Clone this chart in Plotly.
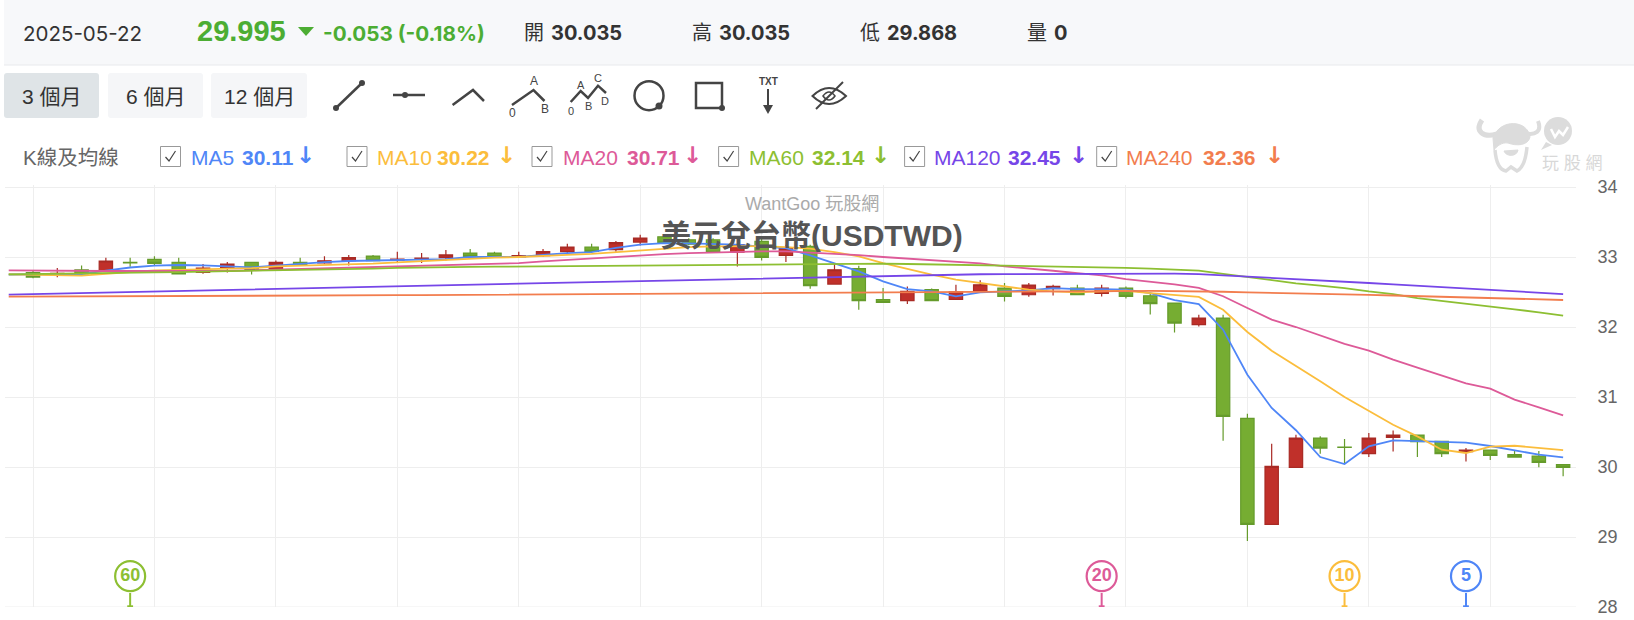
import plotly.graph_objects as go

# candles, oldest first (red = up, green = down)
days = list(range(64))
opens = [32.776, 32.76, 32.815, 32.805, 32.925, 32.967, 32.924, 32.78, 32.84, 32.924, 32.83, 32.924, 32.915, 32.947, 33.014, 32.957,
         32.97, 32.99, 33.057, 33.057, 33.0, 33.02, 33.076, 33.143, 33.105, 33.214, 33.29, 33.247, 33.247, 33.07, 33.223, 33.023,
         33.152, 32.614, 32.833, 32.39, 32.376, 32.533, 32.395, 32.509, 32.557, 32.461, 32.547, 32.557, 32.48, 32.557, 32.447, 32.342,
         32.033, 32.128, 30.695, 29.18, 29.995, 30.414, 30.285, 30.19, 30.423, 30.456, 30.366, 30.218, 30.242, 30.176, 30.157, 30.035]
highs = [32.8, 32.843, 32.88, 32.99, 32.99, 33.01, 32.99, 32.9, 32.93, 32.924, 32.95, 32.99, 33.01, 33.03, 33.03, 33.076,
         33.057, 33.1, 33.114, 33.076, 33.076, 33.114, 33.19, 33.19, 33.228, 33.318, 33.31, 33.27, 33.27, 33.27, 33.27, 33.176,
         33.176, 32.914, 32.876, 32.557, 32.58, 32.55, 32.604, 32.667, 32.628, 32.628, 32.604, 32.604, 32.604, 32.58, 32.485, 32.342,
         32.176, 32.176, 30.76, 30.333, 30.461, 30.438, 30.4, 30.485, 30.523, 30.456, 30.366, 30.27, 30.242, 30.237, 30.228, 30.035]
lows = [32.695, 32.71, 32.76, 32.8, 32.86, 32.876, 32.76, 32.76, 32.78, 32.75, 32.82, 32.87, 32.905, 32.88, 32.947, 32.92,
        32.915, 32.95, 33.0, 33.0, 32.985, 33.0, 33.057, 33.08, 33.076, 33.166, 33.2, 33.17, 33.066, 32.866, 32.95, 32.928,
        32.547, 32.614, 32.247, 32.35, 32.33, 32.376, 32.395, 32.509, 32.366, 32.433, 32.452, 32.461, 32.437, 32.409, 32.18, 31.923,
        32.009, 30.376, 28.942, 29.18, 29.995, 30.19, 30.047, 30.142, 30.223, 30.142, 30.142, 30.08, 30.1, 30.142, 29.995, 29.868]
closes = [32.714, 32.765, 32.76, 32.943, 32.915, 32.91, 32.76, 32.84, 32.9, 32.82, 32.924, 32.88, 32.947, 32.99, 32.947, 32.97,
          32.985, 33.03, 33.01, 33.0, 33.02, 33.076, 33.143, 33.08, 33.205, 33.271, 33.21, 33.185, 33.066, 33.176, 32.995, 33.128,
          32.59, 32.818, 32.376, 32.35, 32.509, 32.376, 32.504, 32.604, 32.437, 32.6, 32.58, 32.461, 32.557, 32.437, 32.333, 32.057,
          32.128, 30.723, 29.18, 30.009, 30.414, 30.27, 30.28, 30.414, 30.456, 30.361, 30.19, 30.242, 30.166, 30.142, 30.066, 29.995]

# moving averages start one day before the first candle
ma_days = list(range(-1, 64))
ma5 = [32.75, 32.75, 32.75, 32.755, 32.805, 32.85, 32.876, 32.886, 32.881, 32.867, 32.852, 32.876, 32.905, 32.928, 32.943, 32.952,
       32.957, 32.96, 32.97, 33.0, 33.0, 33.0, 33.03, 33.057, 33.07, 33.13, 33.176, 33.2, 33.195, 33.19, 33.176, 33.15, 33.128,
       33.023, 32.914, 32.795, 32.652, 32.542, 32.509, 32.437, 32.495, 32.509, 32.523, 32.557, 32.542, 32.542, 32.533, 32.485, 32.385,
       32.326, 31.962, 31.319, 30.843, 30.525, 30.142, 30.042, 30.295, 30.38, 30.371, 30.352, 30.347, 30.3, 30.237, 30.176, 30.137]
ma10 = [32.752, 32.745, 32.74, 32.733, 32.76, 32.79, 32.81, 32.815, 32.824, 32.83, 32.84, 32.867, 32.875, 32.885, 32.89, 32.905,
        32.924, 32.94, 32.957, 32.98, 32.99, 33.0, 33.02, 33.03, 33.045, 33.07, 33.095, 33.123, 33.142, 33.152, 33.157, 33.157, 33.142,
        33.119, 33.071, 33.009, 32.914, 32.828, 32.747, 32.676, 32.628, 32.58, 32.533, 32.509, 32.495, 32.509, 32.518, 32.485, 32.46,
        32.43, 32.247, 31.929, 31.662, 31.447, 31.224, 31.0, 30.8, 30.604, 30.437, 30.247, 30.2, 30.29, 30.304, 30.27, 30.242]
ma20 = [32.809, 32.805, 32.8, 32.8, 32.8, 32.8, 32.8, 32.795, 32.795, 32.8, 32.81, 32.82, 32.83, 32.84, 32.85, 32.855,
        32.86, 32.87, 32.88, 32.89, 32.9, 32.914, 32.938, 32.96, 32.98, 33.0, 33.023, 33.042, 33.057, 33.066, 33.076, 33.08, 33.08,
        33.066, 33.047, 33.028, 33.0, 32.976, 32.952, 32.937, 32.909, 32.866, 32.838, 32.804, 32.771, 32.737, 32.685, 32.65, 32.61,
        32.56, 32.44, 32.271, 32.105, 32.0, 31.881, 31.76, 31.662, 31.533, 31.419, 31.305, 31.195, 31.12, 30.962, 30.852, 30.738]
ma60 = [32.752, 32.755, 32.76, 32.765, 32.77, 32.775, 32.78, 32.785, 32.79, 32.795, 32.8, 32.81, 32.815, 32.82, 32.83, 32.835,
        32.845, 32.852, 32.855, 32.86, 32.862, 32.865, 32.868, 32.87, 32.872, 32.875, 32.88, 32.885, 32.89, 32.893, 32.896, 32.9, 32.902,
        32.905, 32.906, 32.906, 32.905, 32.9, 32.895, 32.89, 32.885, 32.88, 32.875, 32.87, 32.862, 32.855, 32.845, 32.835, 32.822,
        32.805, 32.76, 32.714, 32.66, 32.624, 32.59, 32.557, 32.509, 32.471, 32.414, 32.376, 32.333, 32.295, 32.252, 32.21, 32.162]
ma120 = [32.462, 32.47, 32.478, 32.486, 32.494, 32.502, 32.51, 32.518, 32.526, 32.534, 32.542, 32.55, 32.558, 32.566, 32.574, 32.582,
         32.588, 32.594, 32.6, 32.607, 32.614, 32.621, 32.628, 32.635, 32.642, 32.649, 32.656, 32.663, 32.67, 32.677, 32.684, 32.691, 32.698,
         32.705, 32.712, 32.724, 32.733, 32.74, 32.746, 32.75, 32.754, 32.756, 32.758, 32.76, 32.762, 32.764, 32.766, 32.764, 32.762,
         32.757, 32.74, 32.724, 32.705, 32.686, 32.667, 32.648, 32.629, 32.61, 32.59, 32.567, 32.548, 32.529, 32.51, 32.49, 32.471]
ma240 = [32.433, 32.435, 32.436, 32.438, 32.439, 32.441, 32.442, 32.444, 32.445, 32.447, 32.448, 32.45, 32.451, 32.452, 32.453, 32.454,
         32.455, 32.456, 32.458, 32.46, 32.463, 32.466, 32.468, 32.47, 32.473, 32.476, 32.478, 32.481, 32.484, 32.487, 32.49, 32.492, 32.495,
         32.498, 32.5, 32.5, 32.502, 32.503, 32.504, 32.505, 32.506, 32.507, 32.508, 32.509, 32.51, 32.512, 32.514, 32.515, 32.514,
         32.51, 32.504, 32.495, 32.49, 32.485, 32.476, 32.47, 32.46, 32.45, 32.44, 32.43, 32.425, 32.415, 32.405, 32.395, 32.386]

ma_names = ["MA5", "MA10", "MA20", "MA60", "MA120", "MA240"]
ma_latest = ["30.11", "30.22", "30.71", "32.14", "32.45", "32.36"]
ma_colors = ["#4f86f7", "#fbbd3c", "#dd5a98", "#8dbf32", "#7646e8", "#f27d4e"]
ma_series = [ma5, ma10, ma20, ma60, ma120, ma240]

# the circled deduction markers along the bottom
marker_days = [4, 44, 54, 59]
marker_labels = ["60", "20", "10", "5"]
marker_colors = ["#8dbf32", "#dd5a98", "#fbbd3c", "#4f86f7"]

y_ticks = [28, 29, 30, 31, 32, 33, 34]
grid_days = list(range(0, 64, 5))

W, H = 1634, 620
UI_FONT = "Liberation Sans, Noto Sans CJK TC"
DARK = "#333333"
ICON = "#444444"
GREEN = "#4cad33"

fig = go.Figure()

fig.add_trace(go.Candlestick(
    x=days, open=opens, high=highs, low=lows, close=closes,
    increasing=dict(fillcolor="#c0302a", line=dict(color="#a92a24", width=1.2)),
    decreasing=dict(fillcolor="#76ad32", line=dict(color="#659b2b", width=1.2)),
    whiskerwidth=0, showlegend=False,
))

for name, vals, col in zip(ma_names, ma_series, ma_colors):
    fig.add_trace(go.Scatter(x=ma_days, y=vals, mode="lines", name=name,
                             line=dict(color=col, width=1.8), showlegend=False))

fig.add_trace(go.Scatter(
    x=marker_days, y=[28.44] * len(marker_days), mode="markers+text",
    marker=dict(size=30, color="white", line=dict(width=2.2, color=marker_colors)),
    text=["<b>%s</b>" % t for t in marker_labels], textposition="middle center",
    textfont=dict(family=UI_FONT, size=18, color=marker_colors), showlegend=False,
))

shapes = []
annotations = []


def box(x0, y0, x1, y1, fill, line=None, width=1, layer="above"):
    shapes.append(dict(type="rect", xref="x2", yref="y2", x0=x0, y0=y0, x1=x1, y1=y1, fillcolor=fill,
                       line=dict(color=line or "rgba(0,0,0,0)", width=width), layer=layer))


def path(d, color=ICON, width=2, fill="rgba(0,0,0,0)"):
    shapes.append(dict(type="path", xref="x2", yref="y2", path=d, fillcolor=fill, line=dict(color=color, width=width)))


def dot(x, y, r, color=ICON, fill=None, width=0):
    shapes.append(dict(type="circle", xref="x2", yref="y2", x0=x - r, y0=y - r, x1=x + r, y1=y + r,
                       fillcolor=fill or color, line=dict(color=color, width=width)))


def label(x, y, text, size=18, color=DARK, anchor="left", font=UI_FONT):
    annotations.append(dict(xref="x2", yref="y2", x=x, y=y, text=text, showarrow=False, xanchor=anchor, yanchor="middle",
                            align=anchor, borderpad=0, font=dict(family=font, size=size, color=color)))


## header strip
box(4, 0, W, 65, "#f7f8fa", layer="below")
shapes.append(dict(type="line", xref="x2", yref="y2", x0=4, x1=W, y0=65, y1=65, line=dict(color="#e8eaed", width=1)))
label(21.5, 33, "2025-05-22", 20.5, DARK, font="Inter")
label(195.5, 31, "<b>29.995</b>", 29, GREEN)
path("M 298 27 L 314 27 L 306 36 Z", GREEN, 0, GREEN)
label(321.5, 33, "<b>-0.053 (-0.18%)</b>", 20.7, GREEN, font="Inter")
for x_name, x_val, name, val in [(522.5, 549.5, "開", "30.035"), (690.5, 717.5, "高", "30.035"),
                                 (858.5, 885.5, "低", "29.868"), (1025.5, 1052.5, "量", "0")]:
    label(x_name, 33, name, 20, DARK)
    label(x_val, 33, "<b>%s</b>" % val, 20, DARK, font="Inter")

## range buttons
for x0, x1, txt, fill in [(4, 99, "3 個月", "#dfe4e7"), (108, 203, "6 個月", "#f5f6f8"), (211, 307, "12 個月", "#f5f6f8")]:
    r = 3
    shapes.append(dict(type="path", xref="x2", yref="y2", fillcolor=fill, line=dict(width=0), layer="below",
                       path=f"M {x0 + r} 73 L {x1 - r} 73 Q {x1} 73 {x1} {73 + r} L {x1} {118 - r} Q {x1} 118 {x1 - r} 118 "
                            f"L {x0 + r} 118 Q {x0} 118 {x0} {118 - r} L {x0} {73 + r} Q {x0} 73 {x0 + r} 73 Z"))
    label((x0 + x1) / 2, 96, txt, 21, DARK, "center")

## drawing tool icons
path("M 336 108 L 362 83", ICON, 2.5)
dot(336, 108, 3)
dot(362, 83, 3)
path("M 393 95 L 425 95", ICON, 2.5)
dot(405, 95, 3)
path("M 452.6 105 L 473 90 L 484 101", ICON, 2.5)
path("M 512 105 L 533.5 90 L 544.5 101", ICON, 2.5)
label(533.5, 81, "A", 12, ICON, "center")
label(512, 113, "0", 12, ICON, "center")
label(544.5, 109, "B", 12, ICON, "center")
path("M 570.7 102 L 580.7 91 L 588 98 L 598 85.7 L 606 93", ICON, 2.5)
label(580.7, 85, "A", 11, ICON, "center")
label(598, 78, "C", 11, ICON, "center")
label(571, 111, "0", 11, ICON, "center")
label(588, 106, "B", 11, ICON, "center")
label(605, 101, "D", 11, ICON, "center")
dot(649, 95.7, 14.5, ICON, "rgba(0,0,0,0)", 2.5)
dot(659, 106, 3.5)
box(696, 83, 722, 108, "rgba(0,0,0,0)", ICON, 2.5)
dot(722, 108, 3)
label(768, 81, "<b>TXT</b>", 10, ICON, "center")
path("M 768 89 L 768 110")
path("M 763 105 L 773 105 L 768 114 Z", ICON, 0, ICON)
path("M 812.5 96 Q 829 80 846 96 Q 829 112 812.5 96 Z")
path("M 823 96 Q 829 88 835 96 Q 829 104 823 96 Z", ICON, 1.5)
path("M 816 109 L 843 82")

## MA toggles
label(22, 157, "K線及均線", 20.5, "#666666")
checks = [160.5, 347, 532, 718.6, 904.6, 1096.7]
name_x = [190, 375.6, 562, 748, 933, 1125]
val_x = [240.6, 436, 625.5, 811, 1006.5, 1202]
arrow_x = [305, 506, 692, 880, 1078, 1274]
for i in range(6):
    box(checks[i], 146.5, checks[i] + 20, 166.5, "white", "#999999", 1)
    path(f"M {checks[i] + 5} 157 L {checks[i] + 8.5} 161 L {checks[i] + 15} 151", "#444444", 1.2)
    label(name_x[i], 157, ma_names[i], 21, ma_colors[i])
    label(val_x[i], 157, "<b>%s</b>" % ma_latest[i], 21, ma_colors[i])
    label(arrow_x[i], 155, "<b>↓</b>", 23, ma_colors[i], "center", "DejaVu Sans")

## watermark
MARK = "#dcdcdc"
path("M 1482 120 C 1474 132 1484 138 1497 134", MARK, 5)
path("M 1538 121 C 1542 131 1536 136 1524 133", MARK, 4)
path("M 1493 138 C 1500 118 1528 120 1530 137 C 1528 146 1516 146 1508 143 C 1502 142 1497 146 1494 150 Z", MARK, 1, MARK)
path("M 1495 150 C 1496 162 1500 170 1506 171 L 1511 167 L 1517 171 C 1523 168 1526 158 1527 147", MARK, 3.5)
path("M 1504 151 L 1518 150 C 1517 157 1506 157 1504 151 Z", MARK, 1, MARK)
dot(1558, 131, 14, MARK)
path("M 1546 142 L 1541 150 L 1552 145 Z", MARK, 0, MARK)
path("M 1551 129 L 1555 137 L 1559 131 L 1563 135 L 1568 127", "white", 2.5)
label(1572, 163, "玩 股 網", 17, "#d8d8d8", "center")

## overlaid chart titles
label(812, 204, "WantGoo 玩股網", 18, "#aaaaaa", "center")
label(812, 235, "<b>美元兌台幣(USDTWD)</b>", 30, "#555555", "center")

## bottom grid line is dropped at the axis edge, so draw it
shapes.append(dict(type="line", xref="x", yref="y", x0=-1.153, x1=63.53, y0=y_ticks[0], y1=y_ticks[0],
                   line=dict(color="#eeeeee", width=1), layer="below"))

## marker stems and feet, x comes from the marker days
for d, col in zip(marker_days, marker_colors):
    shapes.append(dict(type="line", xref="x", yref="y", x0=d, x1=d, y0=28, y1=28.2, line=dict(color=col, width=2)))
    shapes.append(dict(type="line", xref="x", yref="y", x0=d - 0.12, x1=d + 0.12, y0=28.01, y1=28.01, line=dict(color=col, width=2)))

fig.update_layout(
    width=W, height=H, margin=dict(l=0, r=0, t=0, b=0, autoexpand=False),
    paper_bgcolor="white", plot_bgcolor="rgba(0,0,0,0)", showlegend=False, boxgap=0.45, boxgroupgap=0,
    font=dict(family=UI_FONT, color="#666666"),
    xaxis=dict(domain=[5 / W, 1576 / W], range=[-1.153, 63.53], tickvals=grid_days, showticklabels=False, ticks="",
               showgrid=True, gridcolor="#eeeeee", gridwidth=1, zeroline=False, showline=False, rangeslider=dict(visible=False)),
    yaxis=dict(domain=[1 - 607 / H, 1 - 185 / H], range=[28, 34.029], side="right", anchor="x", tickvals=y_ticks,
               showgrid=True, gridcolor="#eeeeee", gridwidth=1, zeroline=False, showline=False,
               ticks="outside", ticklen=17, tickcolor="rgba(0,0,0,0)", tickfont=dict(size=18, color="#666666")),
    xaxis2=dict(domain=[0, 1], range=[0, W], visible=False, anchor="y2"),
    yaxis2=dict(domain=[0, 1], range=[H, 0], visible=False, anchor="x2"),
    shapes=shapes, annotations=annotations,
)

fig.write_html("out.html", config=dict(displayModeBar=False),
               post_script="document.body.style.margin='0';document.body.style.overflow='hidden';")
